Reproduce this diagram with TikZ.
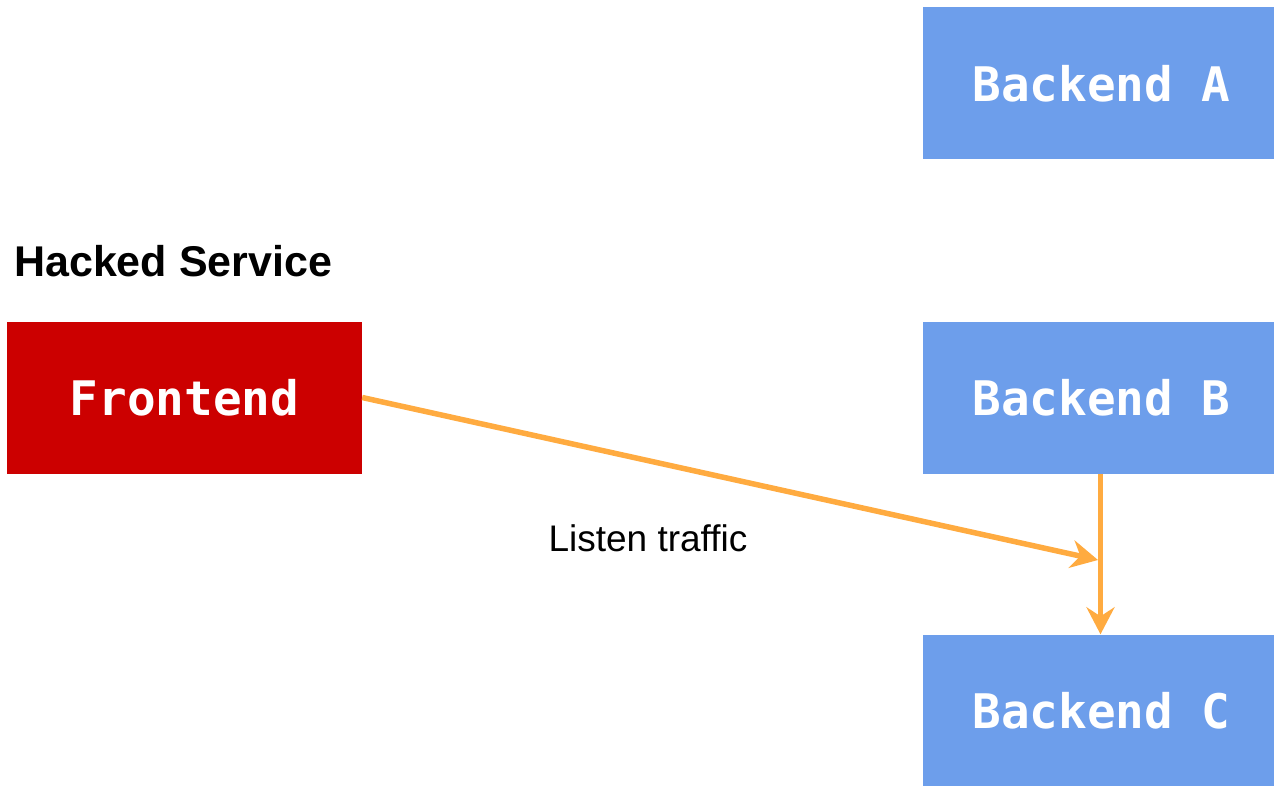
\documentclass[tikz,border=0pt]{standalone}
\usepackage{fontspec}
\setmainfont{Liberation Sans}
\newfontfamily\boxfont{DejaVu Sans Mono}[BoldFont={DejaVu Sans Mono Bold}]
\usetikzlibrary{arrows.meta}
\definecolor{backblue}{HTML}{6D9EEB}
\definecolor{hackred}{HTML}{CC0000}
\definecolor{flow}{HTML}{FFAB40}
\tikzset{
  service/.style={minimum width=351pt, minimum height=152pt, inner sep=0pt,
    text=white, font=\boxfont\bfseries\fontsize{47.6}{50}\selectfont},
  backend/.style={service, fill=backblue},
  hacked/.style={service, fill=hackred, minimum width=355pt},
  traffic/.style={draw=flow, line width=5.5pt,
    -{Stealth[length=27pt, width=28pt, inset=9pt]}}
}
\begin{document}
\begin{tikzpicture}[x=1pt, y=-1pt]
  \useasboundingbox (0,0) rectangle (1274,786);

  % services
  \node[backend] (A) at (1098.5,83.5) {\hspace{6pt}Backend A};
  \node[backend] (B) at (1098.5,397.5) {\hspace{6pt}Backend B};
  \node[backend] (C) at (1098.5,710.5) {\hspace{6pt}Backend C};
  \node[hacked] (F) at (184.5,397.5) {Frontend};

  % caption above the compromised service
  \node[anchor=base west, inner sep=0pt, font=\bfseries\fontsize{43}{46}\selectfont]
    (title) at (14,277) {Hacked Service};

  % mirrored traffic
  \coordinate (tap) at (1098,560);
  \draw[traffic] (F.east) -- (tap);
  \draw[traffic] ([xshift=2pt]B.south) -- ([xshift=2pt]C.north);

  \node[font=\fontsize{37}{40}\selectfont, inner sep=0pt] (lbl) at (648,538) {Listen traffic};
\end{tikzpicture}
\end{document}
